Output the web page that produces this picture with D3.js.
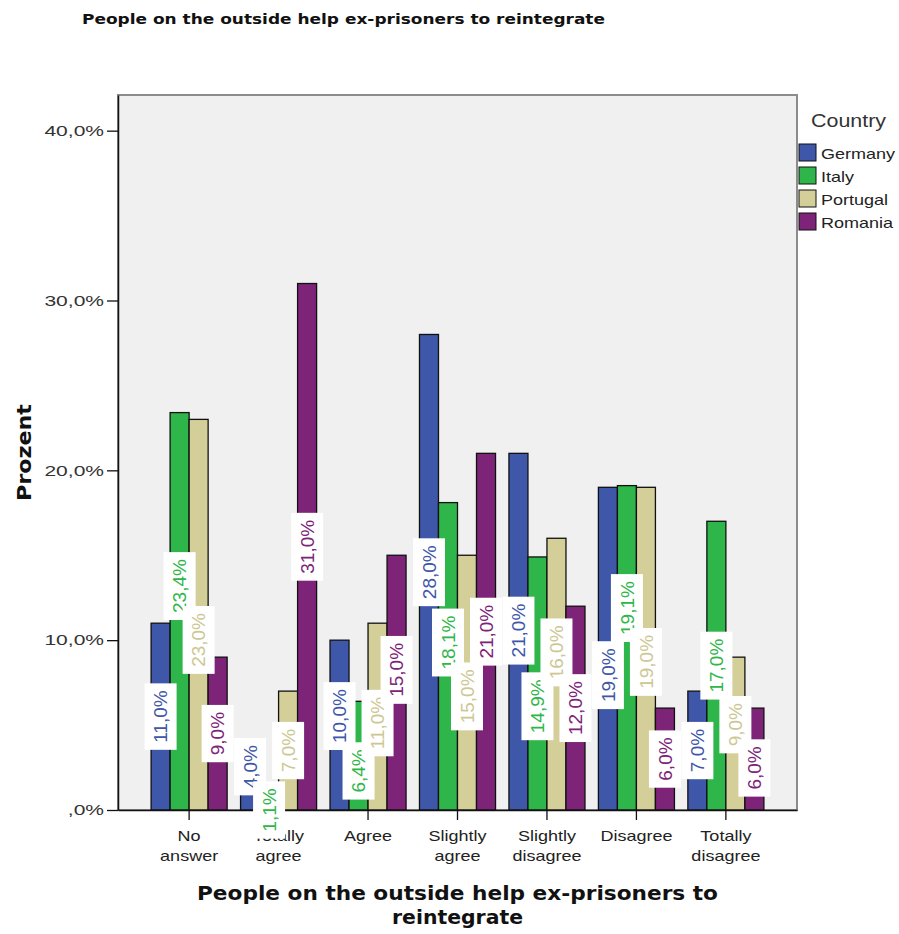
<!DOCTYPE html>
<meta charset="utf-8">
<body style="margin:0;background:#fff">
<script src="https://cdn.jsdelivr.net/npm/d3@7/dist/d3.min.js"></script>
<script>
// data (percent)
var categories = ["No answer", "Totally agree", "Agree", "Slightly agree", "Slightly disagree", "Disagree", "Totally disagree"];
var countries = ["Germany", "Italy", "Portugal", "Romania"];
var germany  = [11.0, 4.0, 10.0, 28.0, 21.0, 19.0, 7.0];
var italy    = [23.4, 1.1, 6.4, 18.1, 14.9, 19.1, 17.0];
var portugal = [23.0, 7.0, 11.0, 15.0, 16.0, 19.0, 9.0];
var romania  = [9.0, 31.0, 15.0, 21.0, 12.0, 6.0, 6.0];
var yTicks = [0, 10, 20, 30, 40];
var yTickLabels = [",0%", "10,0%", "20,0%", "30,0%", "40,0%"];

var series = [germany, italy, portugal, romania];
var colors = ["#3e57a9", "#2fb64a", "#d4cf98", "#7d2479"];
var textColors = ["#3e57a9", "#2fb64a", "#cdc793", "#7d2479"];

var W = 899, H = 934;
var plot = {left: 118, right: 797, top: 95, bottom: 810};

var svg = d3.select("body").append("svg")
    .attr("width", W)
    .attr("height", H)
    .style("font-family", "'Liberation Sans', Arial, sans-serif");

// stretch text horizontally like the SPSS export
function stretch(sel, k) {
  sel.each(function() {
    var w = this.getComputedTextLength();
    d3.select(this).attr("textLength", w * k).attr("lengthAdjust", "spacingAndGlyphs");
  });
}
function fitTo(sel, w) {
  sel.attr("textLength", w).attr("lengthAdjust", "spacingAndGlyphs");
}

var x0 = d3.scaleBand()
    .domain(categories)
    .range([plot.left, plot.right])
    .paddingInner(0.15)
    .paddingOuter(0.37);

var x1 = d3.scaleBand()
    .domain(countries)
    .range([0, x0.bandwidth()]);

var y = d3.scaleLinear()
    .domain([0, 42.1])
    .range([plot.bottom, plot.top]);

// plot background + frame
svg.append("rect")
    .attr("x", plot.left).attr("y", plot.top)
    .attr("width", plot.right - plot.left).attr("height", plot.bottom - plot.top)
    .attr("fill", "#f0f0f0")
    .attr("stroke", "#8c8c8c")
    .attr("stroke-width", 2);

// bars
var groups = svg.selectAll("g.cat")
    .data(categories)
    .enter().append("g")
    .attr("class", "cat")
    .attr("transform", function(d) { return "translate(" + x0(d) + ",0)"; });

groups.selectAll("rect")
    .data(function(c, ci) { return countries.map(function(k, si) { return {k: k, si: si, v: series[si][ci]}; }); })
    .enter().append("rect")
    .attr("x", function(d) { return x1(d.k); })
    .attr("y", function(d) { return y(d.v); })
    .attr("width", x1.bandwidth())
    .attr("height", function(d) { return y(0) - y(d.v); })
    .attr("fill", function(d) { return colors[d.si]; })
    .attr("stroke", "#111")
    .attr("stroke-width", 1.3);

// y axis
var yAxis = svg.append("g")
    .attr("transform", "translate(" + plot.left + ",0)")
    .call(d3.axisLeft(y).tickValues(yTicks)
        .tickFormat(function(d, i) { return yTickLabels[i]; })
        .tickSize(11).tickSizeOuter(0).tickPadding(3));
yAxis.select(".domain").attr("stroke", "#111").attr("stroke-width", 1.5);
yAxis.selectAll(".tick line").attr("stroke", "#111").attr("stroke-width", 1.3);
yAxis.selectAll(".tick text")
    .attr("font-size", 15)
    .attr("fill", "#333")
    .attr("font-family", "'Liberation Sans', Arial, sans-serif")
    .call(stretch, 1.4);

// x axis
var xAxis = svg.append("g")
    .attr("transform", "translate(0," + plot.bottom + ")")
    .call(d3.axisBottom(x0).tickSize(10).tickSizeOuter(0));
xAxis.select(".domain").attr("stroke", "#111").attr("stroke-width", 1.5);
xAxis.selectAll(".tick line").attr("stroke", "#111").attr("stroke-width", 1.3);
xAxis.selectAll(".tick text").remove();
xAxis.selectAll(".tick").each(function(d) {
  var words = d.split(" ");
  var t = d3.select(this);
  words.forEach(function(w, i) {
    t.append("text")
        .attr("y", 31 + i * 20)
        .attr("text-anchor", "middle")
        .attr("font-size", 15)
        .attr("fill", "#222")
        .attr("font-family", "'Liberation Sans', Arial, sans-serif")
        .text(w)
        .call(stretch, 1.2);
  });
});

// value labels: centered in bar, then pushed apart where they collide
var labFont = 19;
var boxW = 32;
var labelG = svg.append("g");
categories.forEach(function(c, ci) {
  var labs = countries.map(function(k, si) {
    var v = series[si][ci];
    var txt = v.toFixed(1).replace(".", ",") + "%";
    return {si: si, v: v, txt: txt, cx: x0(c) + x1(k) + x1.bandwidth() / 2, p: (y(v) + y(0)) / 2};
  });
  // measure text
  labs.forEach(function(l) {
    var tmp = svg.append("text").attr("font-size", labFont).text(l.txt);
    l.len = tmp.node().getComputedTextLength();
    l.h = l.len + 14;
    tmp.remove();
  });
  for (var it = 0; it < 200; it++) {
    for (var i = 0; i < labs.length - 1; i++) {
      var a = labs[i], b = labs[i + 1];
      var minSep = (a.h + b.h) / 2 - 14;
      var d = b.p - a.p;
      if (Math.abs(d) < minSep) {
        var s = d > 0 ? 1 : (d < 0 ? -1 : (a.v > b.v ? 1 : -1));
        var sh = (minSep - Math.abs(d)) / 2;
        a.p -= s * sh;
        b.p += s * sh;
      }
    }
  }
  labs.forEach(function(l) {
    var g = labelG.append("g")
        .attr("transform", "translate(" + l.cx + "," + l.p + ") rotate(-90)");
    g.append("rect")
        .attr("x", -l.h / 2).attr("y", -boxW / 2)
        .attr("width", l.h).attr("height", boxW)
        .attr("fill", "#fff");
    g.append("text")
        .attr("text-anchor", "middle")
        .attr("dy", "0.36em")
        .attr("font-size", labFont)
        .attr("fill", textColors[l.si])
        .text(l.txt);
  });
});

// legend
var legend = svg.append("g").attr("transform", "translate(799,0)");
legend.append("text")
    .attr("x", 12).attr("y", 127)
    .attr("font-size", 19)
    .attr("fill", "#333")
    .text("Country")
    .call(fitTo, 75);
countries.forEach(function(k, i) {
  legend.append("rect")
      .attr("x", 0).attr("y", 144 + i * 23)
      .attr("width", 17).attr("height", 17)
      .attr("fill", colors[i])
      .attr("stroke", "#111").attr("stroke-width", 1);
  legend.append("text")
      .attr("x", 22).attr("y", 159 + i * 23)
      .attr("font-size", 15)
      .attr("fill", "#222")
      .text(k)
      .call(stretch, 1.2);
});

// titles
svg.append("text")
    .attr("x", 82).attr("y", 24)
    .attr("font-family", "'DejaVu Sans', Verdana, sans-serif")
    .attr("font-weight", "bold")
    .attr("font-size", 14)
    .attr("fill", "#111")
    .text("People on the outside help ex-prisoners to reintegrate")
    .call(fitTo, 523);

svg.append("text")
    .attr("transform", "translate(31," + ((plot.top + plot.bottom) / 2) + ") rotate(-90)")
    .attr("text-anchor", "middle")
    .attr("font-family", "'DejaVu Sans', Verdana, sans-serif")
    .attr("font-weight", "bold")
    .attr("font-size", 20)
    .attr("fill", "#111")
    .text("Prozent")
    .call(fitTo, 97);

var xt = ["People on the outside help ex-prisoners to", "reintegrate"];
var xtW = [521, 131];
xt.forEach(function(s, i) {
  svg.append("text")
      .attr("x", (plot.left + plot.right) / 2).attr("y", 900 + i * 24)
      .attr("text-anchor", "middle")
      .attr("font-family", "'DejaVu Sans', Verdana, sans-serif")
      .attr("font-weight", "bold")
      .attr("font-size", 20)
      .attr("fill", "#111")
      .text(s)
      .call(fitTo, xtW[i]);
});
</script>
</body>
